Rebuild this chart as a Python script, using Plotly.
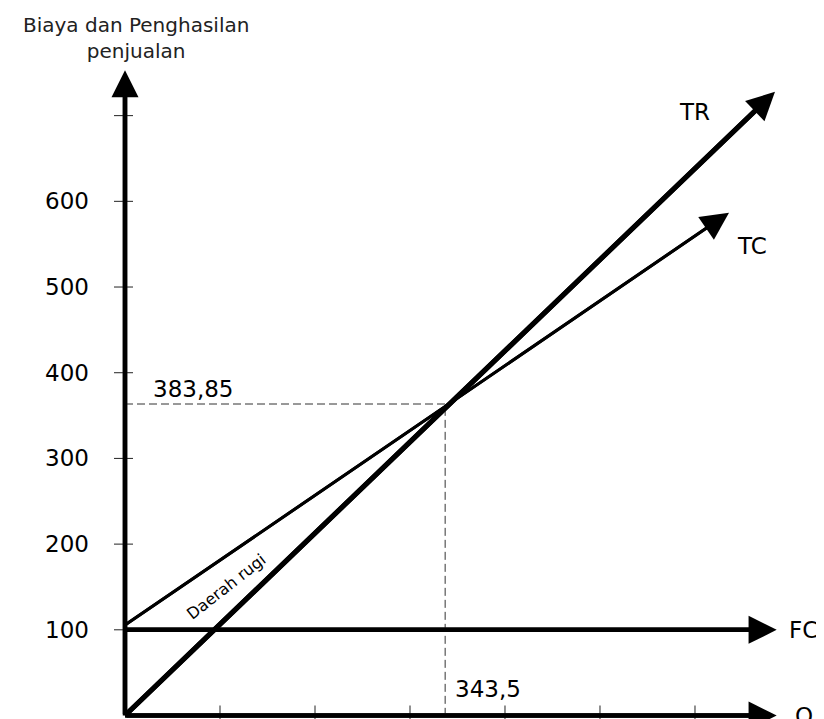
import plotly.graph_objects as go

# ---------------- data ----------------
y_tick_values = [100, 200, 300, 400, 500, 600, 700]
y_tick_labels = ["100", "200", "300", "400", "500", "600", ""]
x_tick_values = [100, 200, 300, 400, 500, 600]

fc_value = 100
fc_end_q = 686

tc_start = [0, 105.6]
tc_tip = [635.8, 586.7]

tr_start = [0, 0]
tr_tip = [684.2, 727.9]

y_axis_tip = 753
x_axis_tip = 686

bep_q = 337
bep_value = 363.5
bep_q_label = "343,5"
bep_value_label = "383,85"

title_text = "Biaya dan Penghasilan<br>penjualan"
loss_text = "Daerah rugi"
loss_q = 107

# ---------------- figure ----------------
# page body has an 8px margin, so the figure is 8px smaller than the window
W, H = 816, 711
FONT = "DejaVu Sans"
fig = go.Figure()


def body(start, tip, frac=0.97):
    return ([start[0], start[0] + (tip[0] - start[0]) * frac],
            [start[1], start[1] + (tip[1] - start[1]) * frac])


arrow_annots = []


def arrow(start, tip, width, size):
    arrow_annots.append(dict(
        x=tip[0], y=tip[1], ax=start[0], ay=start[1],
        xref="x", yref="y", axref="x", ayref="y",
        text="", showarrow=True, arrowhead=2, arrowwidth=width,
        arrowsize=size, arrowcolor="black"))


lines = [
    ([0, 0], [0, y_axis_tip], 4.5, 1.2),                 # Y axis
    ([0, 0], [x_axis_tip, 0], 4.5, 1.25),                # Q axis
    ([0, fc_value], [fc_end_q, fc_value], 4.5, 1.25),    # FC
    (tc_start, tc_tip, 3, 1.85),                         # TC
    (tr_start, tr_tip, 5, 1.12),                         # TR
]
for s, t, w, sz in lines:
    xs, ys = body(s, t)
    fig.add_trace(go.Scatter(x=xs, y=ys, mode="lines",
                             line=dict(color="black", width=w),
                             hoverinfo="skip", showlegend=False))
    arrow(s, t, w, sz)

# dashed guide lines
fig.add_trace(go.Scatter(x=[0, bep_q, bep_q], y=[bep_value, bep_value, -10],
                         mode="lines", line=dict(color="#333", width=1, dash="8px,4px"),
                         hoverinfo="skip", showlegend=False))

shapes = []
for v in y_tick_values:
    shapes.append(dict(type="line", xref="x", yref="y", xsizemode="pixel", xanchor=0,
                       x0=-11, x1=8, y0=v, y1=v, line=dict(color="#222", width=1)))
for q in x_tick_values:
    shapes.append(dict(type="line", xref="x", yref="y", ysizemode="pixel", yanchor=0,
                       y0=-10, y1=10, x0=q, x1=q, line=dict(color="#222", width=1)))

annots = list(arrow_annots)
num_font = dict(family=FONT, size=23, color="black")
for v, lab in zip(y_tick_values, y_tick_labels):
    if lab:
        annots.append(dict(x=0, y=v, xref="x", yref="y", text=lab, showarrow=False,
                           xanchor="right", yanchor="middle", xshift=-34, font=num_font))

annots.append(dict(x=0, y=bep_value, xref="x", yref="y", text=bep_value_label, showarrow=False,
                   xanchor="left", yanchor="middle", xshift=26, yshift=15, font=num_font))
annots.append(dict(x=bep_q, y=0, xref="x", yref="y", text=bep_q_label, showarrow=False,
                   xanchor="left", yanchor="middle", xshift=8, yshift=27, font=num_font))

annots.append(dict(x=tr_tip[0], y=tr_tip[1], xref="x", yref="y", text="TR", showarrow=False,
                   xanchor="center", yanchor="middle", xshift=-80, yshift=-20, font=num_font))
annots.append(dict(x=tc_tip[0], y=tc_tip[1], xref="x", yref="y", text="TC", showarrow=False,
                   xanchor="center", yanchor="middle", xshift=23, yshift=-33, font=num_font))
annots.append(dict(x=fc_end_q, y=fc_value, xref="x", yref="y", text="FC", showarrow=False,
                   xanchor="left", yanchor="middle", xshift=10, yshift=0, font=num_font))
annots.append(dict(x=x_axis_tip, y=0, xref="x", yref="y", text="Q", showarrow=False,
                   xanchor="left", yanchor="middle", xshift=16, yshift=0, font=num_font))

annots.append(dict(x=(136 - 8) / W, y=1 - 3 / H, xref="paper", yref="paper", text=title_text,
                   showarrow=False, xanchor="center", yanchor="top", align="center",
                   font=dict(family=FONT, size=20, color="#222")))

tc_slope = (tc_tip[1] - tc_start[1]) / (tc_tip[0] - tc_start[0])
tr_slope = (tr_tip[1] - tr_start[1]) / (tr_tip[0] - tr_start[0])
loss_y = ((tc_start[1] + tc_slope * loss_q) + (tr_start[1] + tr_slope * loss_q)) / 2
annots.append(dict(x=loss_q, y=loss_y, xref="x", yref="y", text=loss_text, showarrow=False,
                   textangle=-38, font=dict(family=FONT, size=16, color="black")))

fig.update_layout(
    width=W, height=H,
    margin=dict(l=0, r=0, t=0, b=0),
    paper_bgcolor="white", plot_bgcolor="white",
    xaxis=dict(range=[-123.16, 735.8], visible=False, fixedrange=True),
    yaxis=dict(range=[-4.08, 825.6], visible=False, fixedrange=True),
    shapes=shapes, annotations=annots,
    showlegend=False,
)

fig.write_html("out.html")
